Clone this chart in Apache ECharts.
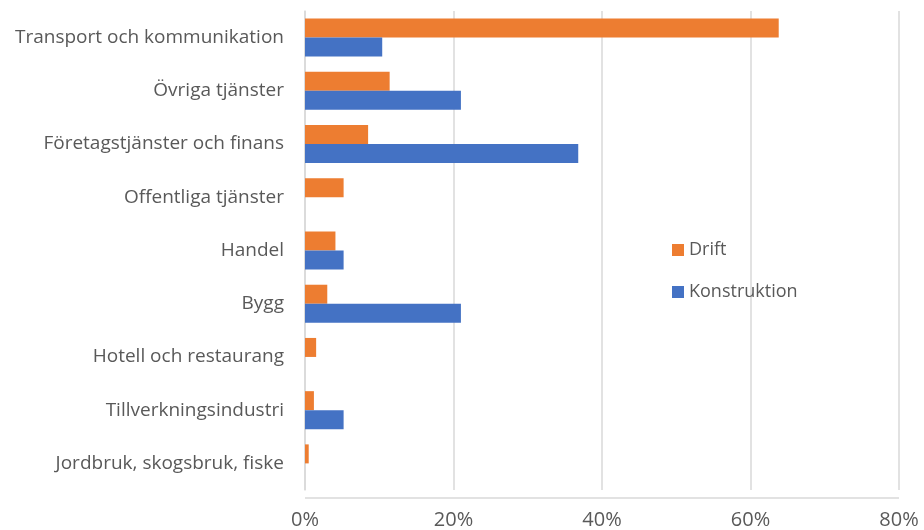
<!DOCTYPE html>
<html>
<head>
<meta charset="utf-8">
<script src="https://cdn.jsdelivr.net/npm/echarts@6/dist/echarts.min.js"></script>
<style>
  html, body { margin: 0; padding: 0; background: #fff; }
  #chart { width: 924px; height: 530px; }
</style>
</head>
<body>
<div id="chart"></div>
<script>
// Sectors, top to bottom
const categories = [
  'Transport och kommunikation',
  'Övriga tjänster',
  'Företagstjänster och finans',
  'Offentliga tjänster',
  'Handel',
  'Bygg',
  'Hotell och restaurang',
  'Tillverkningsindustri',
  'Jordbruk, skogsbruk, fiske'
];
// Share of effect per sector (%)
const drift = [63.8, 11.4, 8.5, 5.2, 4.1, 3.0, 1.5, 1.2, 0.5];
const konstruktion = [10.4, 21.0, 36.8, 0, 5.2, 21.0, 0, 5.2, 0];
const xTicks = [0, 20, 40, 60, 80];

const font = '"Open Sans", Lato, sans-serif';
const chart = echarts.init(document.getElementById('chart'));
chart.setOption({
  animation: false,
  textStyle: { fontFamily: font },
  grid: { left: 305, right: 25, top: 11, bottom: 32, containLabel: false },
  legend: {
    orient: 'vertical',
    left: 672,
    top: 241,
    padding: 0,
    itemWidth: 12,
    itemHeight: 12,
    itemGap: 24,
    icon: 'rect',
    textStyle: { fontSize: 18, color: '#595959', fontFamily: font },
    data: ['Drift', 'Konstruktion']
  },
  xAxis: {
    type: 'value',
    min: xTicks[0],
    max: xTicks[xTicks.length - 1],
    interval: 20,
    axisLine: { show: false },
    axisTick: { show: false },
    axisLabel: { formatter: '{value}%', fontSize: 20, color: '#595959', margin: 20, fontFamily: font },
    splitLine: { show: true, lineStyle: { color: '#d9d9d9', width: 1.5 } }
  },
  yAxis: {
    type: 'category',
    inverse: true,
    data: categories,
    axisLine: { show: true, lineStyle: { color: '#d9d9d9', width: 1.5 } },
    axisTick: { show: false },
    axisLabel: { fontSize: 19, color: '#595959', margin: 21, fontFamily: font },
    splitLine: { show: false }
  },
  series: [
    {
      name: 'Drift',
      type: 'bar',
      data: drift,
      barWidth: 19,
      barGap: '0%',
      itemStyle: { color: '#ED7D31' }
    },
    {
      name: 'Konstruktion',
      type: 'bar',
      data: konstruktion,
      barWidth: 19,
      barGap: '0%',
      itemStyle: { color: '#4472C4' }
    }
  ],
  graphic: [{
    type: 'line',
    shape: { x1: 305, y1: 498, x2: 899, y2: 498 },
    style: { stroke: '#d9d9d9', lineWidth: 1.5 },
    silent: true
  }]
});
</script>
</body>
</html>
